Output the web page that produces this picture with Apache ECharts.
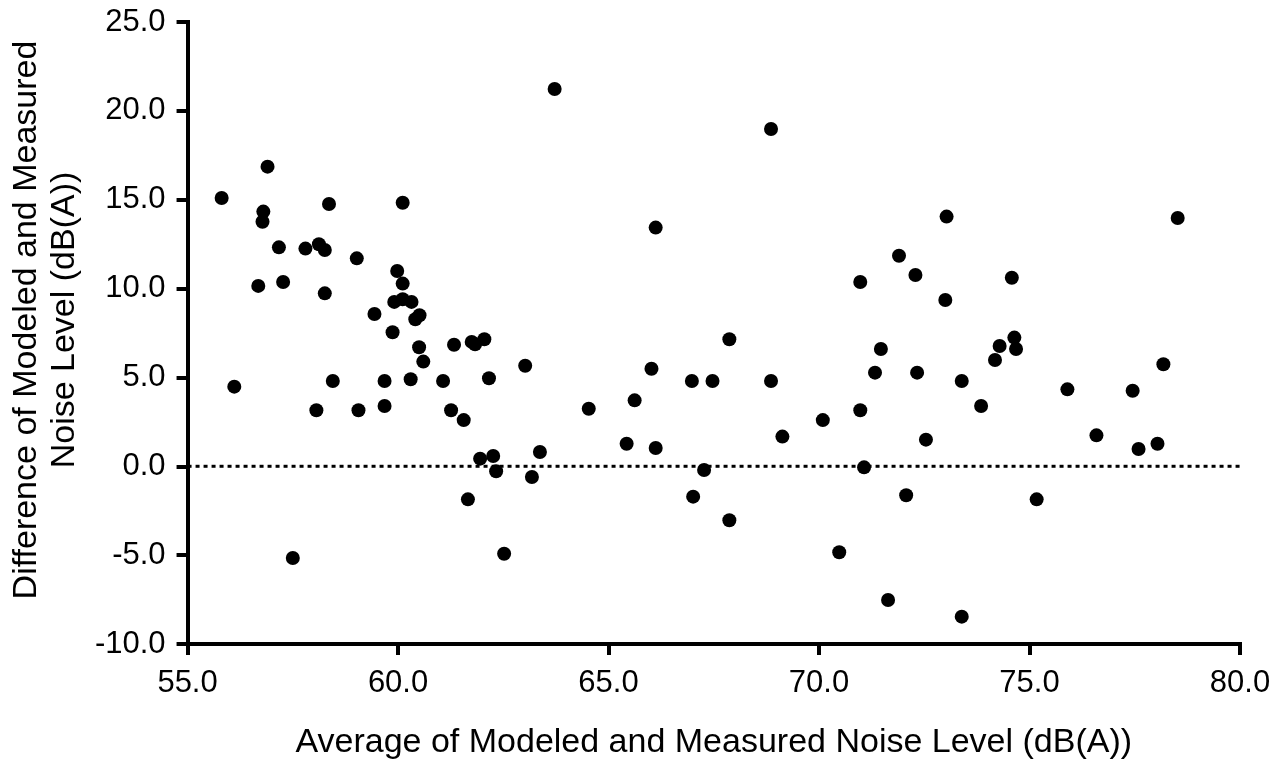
<!DOCTYPE html>
<html>
<head>
    <meta charset="utf-8">
    <title>Noise level difference</title>
    <script src="https://cdn.jsdelivr.net/npm/echarts@6/dist/echarts.min.js"></script>
    <style>
        html, body { margin: 0; padding: 0; background: #fff; }
        #chart { width: 1283px; height: 767px; }
    </style>
</head>
<body>
<div id="chart"></div>
<script>
    // average of modeled and measured noise level, dB(A)
    var avgLevel = [
        55.81, 56.11, 56.90, 58.36, 60.11, 56.80, 56.78, 57.17, 57.80, 58.12,
        58.26, 59.02, 59.98, 60.11, 56.68, 57.27, 58.26, 59.91, 60.11, 60.32,
        59.44, 60.51, 60.41, 59.87, 60.50, 60.60, 61.33, 61.75, 61.83, 62.05,
        58.45, 59.68, 60.30, 61.07, 58.06, 59.06, 59.68, 61.26, 61.56, 61.95,
        62.26, 62.33, 61.66, 57.50, 62.52, 62.16, 63.02, 63.37, 63.18, 63.72,
        64.53, 65.62, 66.02, 65.43, 66.12, 66.12, 66.98, 67.47, 67.87, 68.86,
        68.86, 69.13, 70.09, 70.98, 71.33, 71.47, 67.27, 67.01, 67.87, 70.48,
        71.07, 71.64, 70.98, 71.90, 73.03, 78.52, 72.29, 73.00, 74.58, 74.64,
        74.29, 74.68, 74.18, 72.33, 73.39, 78.18, 75.90, 77.45, 73.85, 72.54,
        76.59, 77.59, 78.04, 72.07, 75.17, 73.39
    ];
    // difference of modeled and measured noise level, dB(A)
    var diffLevel = [
        15.10, 4.48, 16.86, 14.76, 14.83, 14.33, 13.76, 12.32, 12.25, 12.49,
        12.17, 11.70, 10.99, 10.28, 10.15, 10.37, 9.73, 9.25, 9.40, 9.25,
        8.57, 8.50, 8.27, 7.54, 6.70, 5.89, 6.84, 7.00, 6.87, 7.15,
        4.80, 4.80, 4.90, 4.80, 3.15, 3.15, 3.39, 3.15, 2.60, 0.43,
        0.58, -0.28, -1.86, -5.16, -4.92, 4.95, 5.66, 0.80, -0.60, 21.23,
        3.24, 3.71, 5.49, 1.27, 1.03, 13.43, 4.80, 4.80, 7.15, 4.80,
        18.98, 1.67, 2.60, 3.15, 5.27, 6.60, -0.21, -1.71, -3.04, -4.84,
        -0.06, -7.52, 10.37, 11.85, 14.05, 13.97, 10.76, 9.36, 10.61, 7.24,
        6.77, 6.60, 5.98, 5.27, 4.80, 5.74, 4.33, 4.25, 3.39, 1.50,
        1.74, 0.97, 1.27, -1.63, -1.86, -8.46
    ];
    var xRange = [55, 80];
    var yRange = [-10, 25];
    var zeroLine = [[55, 0], [80, 0]];

    var points = [];
    for (var i = 0; i < avgLevel.length; i++) {
        points.push([avgLevel[i], diffLevel[i]]);
    }

    var FONT = '"Liberation Sans", Arial, sans-serif';
    var chart = echarts.init(document.getElementById('chart'));

    var axisCommon = {
        type: 'value',
        interval: 5,
        splitLine: {show: false},
        axisLine: {show: true, onZero: false, lineStyle: {color: '#000', width: 4, cap: 'square'}},
        axisTick: {show: true, inside: false, length: 11, lineStyle: {color: '#000', width: 4}},
        axisLabel: {
            color: '#000', fontSize: 31, fontFamily: FONT,
            formatter: function (v) { return v.toFixed(1); }
        },
        nameLocation: 'middle',
        nameTextStyle: {color: '#000', fontSize: 34, fontFamily: FONT, lineHeight: 38}
    };

    var option = {
        backgroundColor: '#fff',
        animation: false,
        grid: {left: 185, right: 43, top: 22, bottom: 123},
        xAxis: Object.assign({}, axisCommon, {
            min: xRange[0], max: xRange[1],
            name: 'Average of Modeled and Measured Noise Level (dB(A))',
            nameGap: 80,
            axisLabel: Object.assign({}, axisCommon.axisLabel, {margin: 24})
        }),
        yAxis: Object.assign({}, axisCommon, {
            min: yRange[0], max: yRange[1],
            name: 'Difference of Modeled and Measured\nNoise Level (dB(A))',
            nameGap: 100,
            nameTextStyle: Object.assign({}, axisCommon.nameTextStyle, {padding: [0, 0, 0, 26]}),
            axisLabel: Object.assign({}, axisCommon.axisLabel, {margin: 22})
        }),
        series: [
            {
                type: 'line',
                data: zeroLine,
                symbol: 'none',
                silent: true,
                lineStyle: {color: '#000', width: 3, type: [4, 4]},
                z: 1
            },
            {
                type: 'scatter',
                data: points,
                symbol: 'circle',
                symbolSize: 14,
                itemStyle: {color: '#000', opacity: 1},
                z: 2
            }
        ]
    };
    chart.setOption(option);
</script>
</body>
</html>
